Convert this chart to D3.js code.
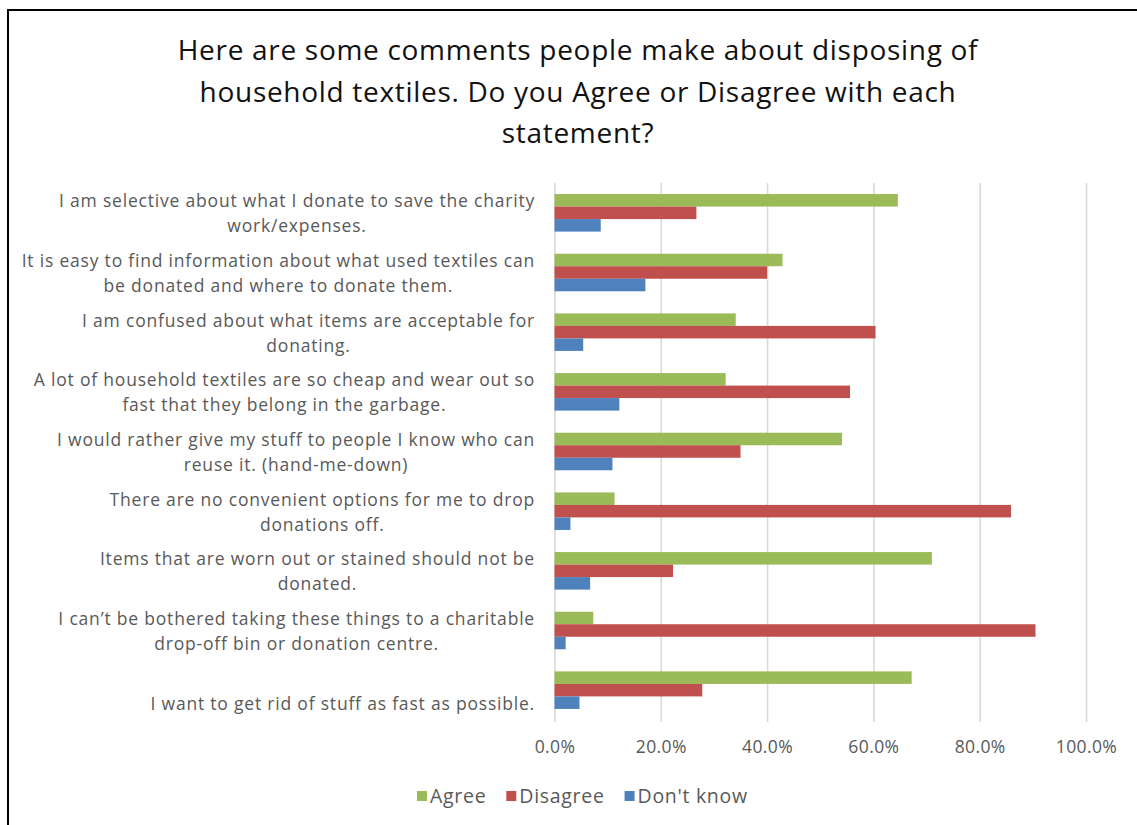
<!DOCTYPE html>
<html>
<head>
<meta charset="utf-8">
<script src="https://cdn.jsdelivr.net/npm/d3@7"></script>
<style>
  html, body { margin: 0; padding: 0; background: #fff; }
  svg { display: block; }
</style>
</head>
<body>
<svg id="chart" width="1137" height="825"></svg>
<script>
// Survey statements (each entry is the label's lines, top to bottom)
const categories = [
  ["I am selective about what I donate to save the charity", "work/expenses."],
  ["It is easy to find information about what used textiles can", "be donated and where to donate them."],
  ["I am confused about what items are acceptable for", "donating."],
  ["A lot of household textiles are so cheap and wear out so", "fast that they belong in the garbage."],
  ["I would rather give my stuff to people I know who can", "reuse it. (hand-me-down)"],
  ["There are no convenient options for me to drop", "donations off."],
  ["Items that are worn out or stained should not be", "donated."],
  ["I can\u2019t be bothered taking these things to a charitable", "drop-off bin or donation centre."],
  ["", "I want to get rid of stuff as fast as possible."]
];

const seriesNames = ["Agree", "Disagree", "Don't know"];
const agree    = [0.646, 0.429, 0.341, 0.322, 0.541, 0.113, 0.710, 0.073, 0.672];
const disagree = [0.267, 0.400, 0.604, 0.556, 0.350, 0.859, 0.223, 0.905, 0.278];
const dontKnow = [0.087, 0.171, 0.054, 0.122, 0.109, 0.030, 0.067, 0.021, 0.047];
const tickValues = [0, 0.2, 0.4, 0.6, 0.8, 1.0];
const titleLines = [
  "Here are some comments people make about disposing of",
  "household textiles. Do you Agree or Disagree with each",
  "statement?"
];
const colors = ["#9BBB59", "#C0504D", "#4F81BD"];

const svg = d3.select("#chart");
const font = "'Open Sans', 'Noto Sans', sans-serif";
const textGray = "#595959";

// Outer frame
svg.append("path")
  .attr("d", "M8,840V10H1150")
  .attr("fill", "none")
  .attr("stroke", "#000")
  .attr("stroke-width", 2);

// Title
svg.append("g").selectAll("text")
  .data(titleLines)
  .join("text")
  .attr("x", 578)
  .attr("y", (d, i) => 60 + i * 41.5)
  .attr("text-anchor", "middle")
  .attr("font-family", font)
  .attr("font-size", 28)
  .attr("letter-spacing", 0.7)
  .attr("fill", "#111")
  .text(d => d);

const plot = { left: 554.5, right: 1086, top: 183, bottom: 720 };

const x = d3.scaleLinear().domain([0, 1]).range([plot.left, plot.right]);
const idx = d3.range(categories.length);
const y = d3.scaleBand().domain(idx).range([plot.top, plot.bottom])
  .paddingInner(0.371).paddingOuter(0.1855);
const ySub = d3.scaleBand().domain(seriesNames).range([0, y.bandwidth()]);

// Vertical gridlines
svg.append("g")
  .attr("transform", `translate(0,${plot.bottom + 2})`)
  .call(d3.axisBottom(x).tickValues(tickValues).tickSize(-(plot.bottom + 2 - plot.top)).tickFormat(""))
  .call(g => g.select(".domain").remove())
  .call(g => g.selectAll(".tick line").attr("stroke", "#d9d9d9").attr("stroke-width", 1.6));

// Tick labels
svg.append("g")
  .attr("transform", `translate(0,${plot.bottom + 12})`)
  .call(d3.axisBottom(x).tickValues(tickValues).tickSize(0).tickFormat(d3.format(".1%")))
  .call(g => g.select(".domain").remove())
  .call(g => g.selectAll(".tick text")
    .attr("font-family", font).attr("font-size", 17.5).attr("letter-spacing", 0.4)
    .attr("fill", textGray).attr("dy", "1.0em"));

// Bars
const values = [agree, disagree, dontKnow];
const barData = [];
idx.forEach(i => seriesNames.forEach((s, k) => barData.push({ i, s, k, v: values[k][i] })));

svg.append("g").selectAll("rect")
  .data(barData)
  .join("rect")
  .attr("x", x(0))
  .attr("y", d => y(d.i) + ySub(d.s))
  .attr("width", d => x(d.v) - x(0))
  .attr("height", ySub.bandwidth())
  .attr("fill", d => colors[d.k]);

// Category labels: lines centred on each other, block right-aligned
const labelRight = 535;
const lineGap = 25;
const labels = svg.append("g");
idx.forEach(i => {
  const lines = categories[i];
  const cy = y(i) + y.bandwidth() / 2;
  const g = labels.append("g");
  const texts = g.selectAll("text")
    .data(lines)
    .join("text")
    .attr("font-family", font)
    .attr("font-size", 17.5)
    .attr("letter-spacing", 0.8)
    .attr("fill", textGray)
    .attr("text-anchor", "middle")
    .attr("y", (d, j) => cy + (j - (lines.length - 1) / 2) * lineGap + 1)
    .attr("dy", "0.35em")
    .text(d => d);
  let maxW = 0;
  texts.each(function () { maxW = Math.max(maxW, this.getComputedTextLength()); });
  texts.attr("x", labelRight - maxW / 2);
});

// Legend
const legend = svg.append("g").attr("transform", "translate(0,796)");
let lx = 417;
seriesNames.forEach((s, k) => {
  legend.append("rect").attr("x", lx).attr("y", -5).attr("width", 10).attr("height", 10).attr("fill", colors[k]);
  const t = legend.append("text")
    .attr("x", lx + 13).attr("y", 0).attr("dy", "0.35em")
    .attr("font-family", font).attr("font-size", 19.5).attr("letter-spacing", 0.7)
    .attr("fill", textGray)
    .text(s);
  lx += 13 + t.node().getComputedTextLength() + 20;
});
</script>
</body>
</html>
